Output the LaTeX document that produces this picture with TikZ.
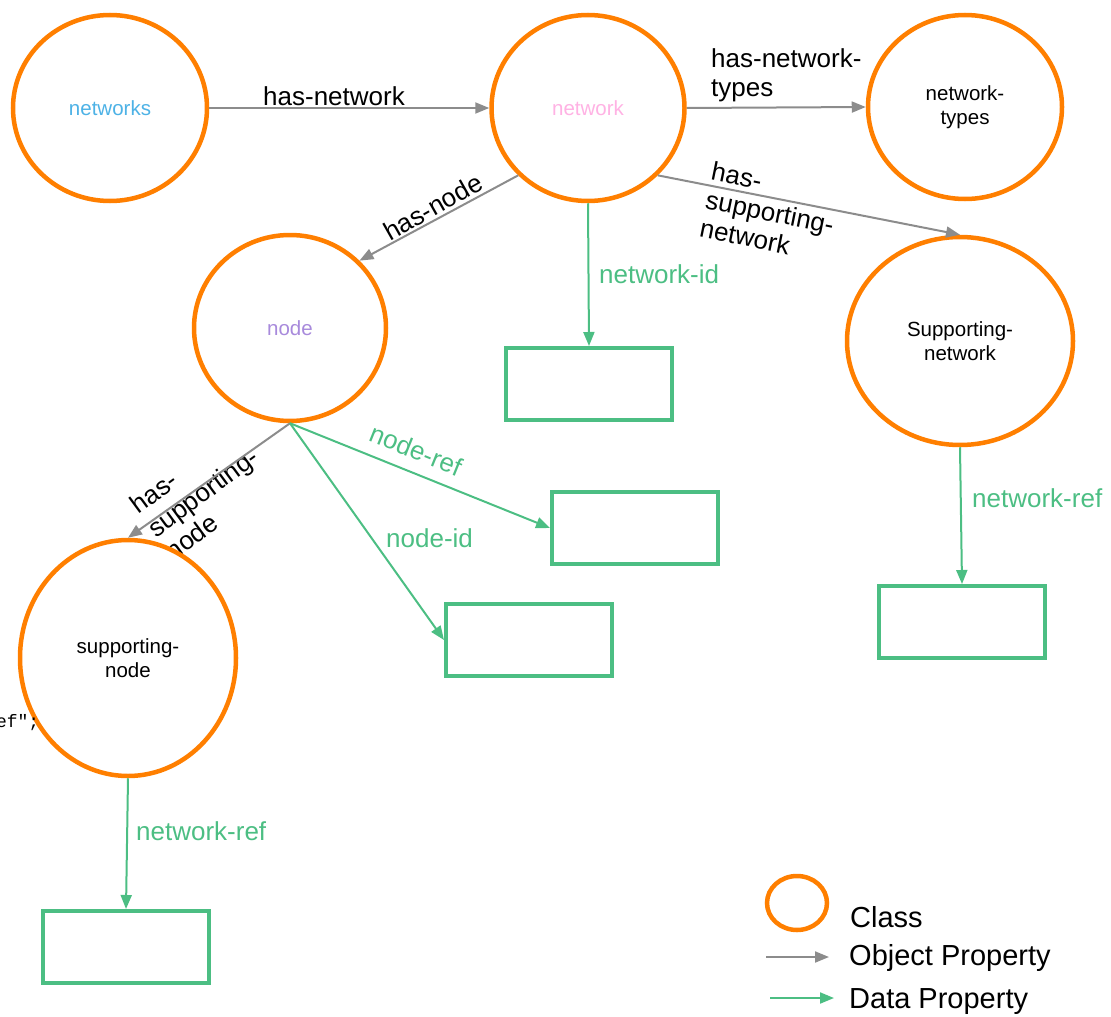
\documentclass[tikz,border=0pt]{standalone}
\usepackage{fontspec}
\setmainfont{Liberation Sans}
\newfontfamily\monofont{Liberation Mono}
\usetikzlibrary{shapes.geometric,arrows.meta}
\definecolor{clsorange}{RGB}{255,127,0}
\definecolor{datagreen}{RGB}{76,190,131}
\definecolor{objgray}{RGB}{140,140,140}
\definecolor{netblue}{RGB}{77,178,230}
\definecolor{netpink}{RGB}{255,178,228}
\definecolor{nodepurple}{RGB}{168,138,220}
\begin{document}
\begin{tikzpicture}[x=1pt,y=-1pt,
  cls/.style={ellipse,draw=clsorange,line width=4.5pt,fill=white,inner sep=0pt,align=center,
    font=\fontsize{20.5}{24}\selectfont},
  databox/.style={rectangle,draw=datagreen,line width=4pt,minimum width=166pt,minimum height=72pt,inner sep=0pt},
  objp/.style={draw=objgray,line width=2pt,-{Triangle[length=14pt,width=11pt]}},
  datap/.style={draw=datagreen,line width=2pt,-{Triangle[length=14pt,width=11pt]}},
  elab/.style={inner sep=0pt,font=\fontsize{26}{29}\selectfont},
  olab/.style={elab,text=black},
  dlab/.style={elab,text=datagreen},
  leglab/.style={inner sep=0pt,anchor=west,font=\fontsize{29}{32}\selectfont}]
\useasboundingbox (0,0) rectangle (1111,1017);

% label that is partly covered by the supporting-node circle
\node[olab,rotate=36.4,align=left] (lhsn) at (203,492) {has-\\supporting-\\node};

% classes
\node[cls,minimum width=194pt,minimum height=186pt,text=netblue] (networks) at (110,108) {networks};
\node[cls,minimum width=193pt,minimum height=186pt,text=netpink] (network) at (588,108) {network};
\node[cls,minimum width=194pt,minimum height=184pt] (types) at (965,107) {network-\\types};
\node[cls,minimum width=192pt,minimum height=186pt,text=nodepurple] (node) at (290,328) {node};
\node[cls,minimum width=226pt,minimum height=208pt] (supnet) at (960,341) {Supporting-\\network};
\node[cls,minimum width=216pt,minimum height=236pt] (supnode) at (128,658) {supporting-\\node};

% stray text at the left edge
\node[inner sep=0pt,anchor=base east,font=\monofont\fontsize{18}{22}\selectfont] (stray) at (39.5,727) {ef";};

% data boxes
\node[databox] (r1) at (589,384) {};
\node[databox] (r2) at (635,528) {};
\node[databox] (r3) at (529,640) {};
\node[databox] (r4) at (962,622) {};
\node[databox] (r5) at (126,947) {};

% object properties
\draw[objp] (networks.east) -- (network.west);
\draw[objp] (network.east) -- (types.west);
\draw[objp] (network.south east) -- (supnet.north);
\draw[objp] (network.south west) -- (node.north east);
\draw[objp] (node.south) -- (supnode.north);

% data properties
\draw[datap] (network.south) -- (r1.north);
\draw[datap] (node.south) -- (r2.west);
\draw[datap] (node.south) -- (r3.west);
\draw[datap] (supnet.south) -- (r4.north);
\draw[datap] (supnode.south) -- (r5.north);

% edge labels
\node[olab] (lhn) at (334,96) {has-network};
\node[olab,anchor=west,align=left] (lhnt) at (711,75) {has-network-\\types};
\node[olab,rotate=-11.5,align=left] (lhsnw) at (770,212) {has-\\supporting-\\network};
\node[olab,rotate=29.5] (lhnode) at (433,207) {has-node};
\node[dlab,anchor=west] (lnid) at (599,274) {network-id};
\node[dlab,rotate=-22] (lnref) at (416,450) {node-ref};
\node[dlab,anchor=west] (lndid) at (386,538) {node-id};
\node[dlab,anchor=west] (lnr1) at (972,498) {network-ref};
\node[dlab,anchor=west] (lnr2) at (136,831) {network-ref};

% legend
\node[ellipse,draw=clsorange,line width=4.5pt,minimum width=60pt,minimum height=54pt,inner sep=0pt] (legcls) at (797,903) {};
\node[leglab] (legclstxt) at (850,917) {Class};
\coordinate (oa) at (766,957);
\coordinate (ob) at (829,957);
\draw[objp] (oa) -- (ob);
\node[leglab] (legobj) at (849,958) {Object Property};
\coordinate (da) at (770,998);
\coordinate (db) at (834,998);
\draw[datap] (da) -- (db);
\node[leglab] (legdat) at (849,1002) {Data Property};
\end{tikzpicture}
\end{document}
